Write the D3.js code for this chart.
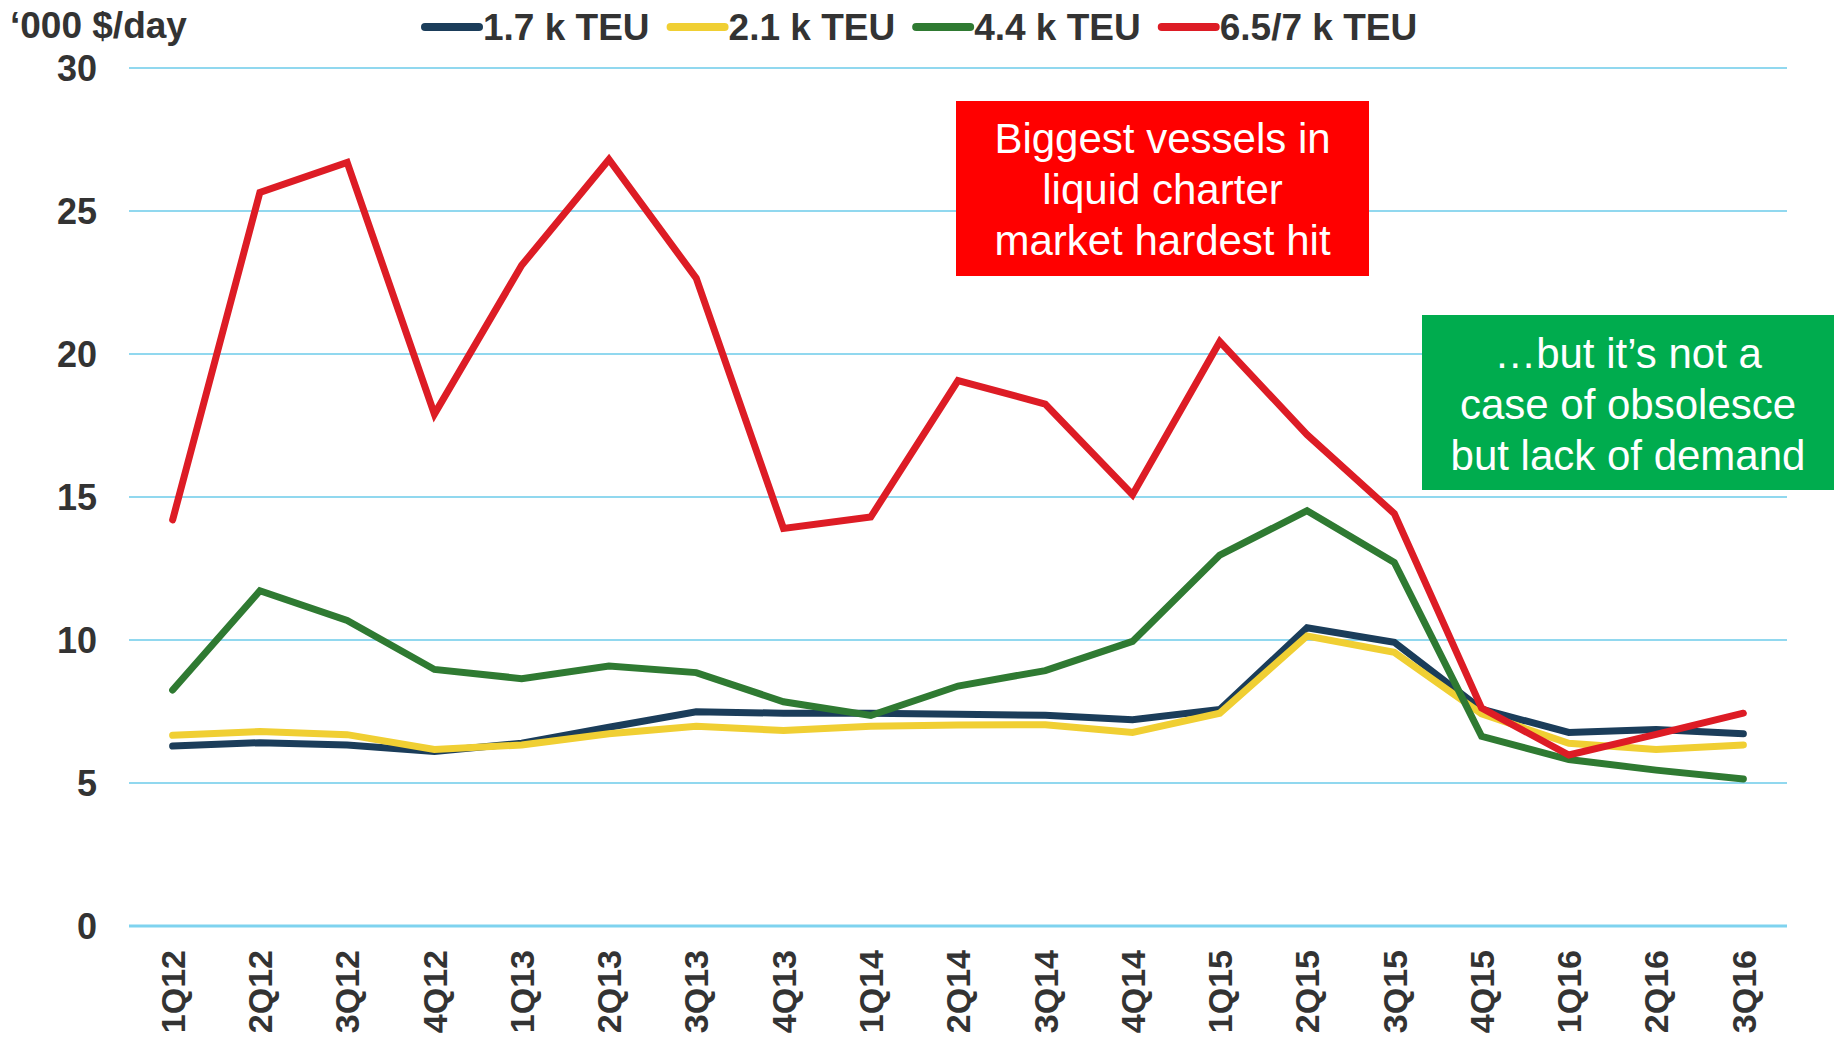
<!DOCTYPE html>
<html><head><meta charset="utf-8">
<script src="https://cdn.jsdelivr.net/npm/d3@7"></script>
<style>
html,body{margin:0;padding:0;background:#fff;}
text{font-family:"Liberation Sans",Arial,sans-serif;}
</style></head>
<body>
<svg id="chart" width="1843" height="1042"></svg>
<script>
const quarters = ["1Q12","2Q12","3Q12","4Q12","1Q13","2Q13","3Q13","4Q13","1Q14","2Q14","3Q14","4Q14","1Q15","2Q15","3Q15","4Q15","1Q16","2Q16","3Q16"];
const teu17 = [6.29,6.41,6.33,6.1,6.39,6.95,7.49,7.44,7.44,7.4,7.37,7.21,7.57,10.43,9.92,7.58,6.77,6.87,6.72];
const teu21 = [6.67,6.8,6.69,6.17,6.33,6.72,6.98,6.84,6.98,7.03,7.04,6.77,7.44,10.14,9.57,7.42,6.39,6.17,6.33];
const teu44 = [8.25,11.72,10.68,8.97,8.65,9.09,8.86,7.84,7.36,8.39,8.93,9.95,12.97,14.52,12.71,6.63,5.82,5.45,5.14];
const teu65 = [14.2,25.65,26.7,17.9,23.1,26.8,22.65,13.9,14.3,19.07,18.25,15.08,20.43,17.18,14.42,7.62,5.98,6.7,7.44];
const seriesNames = ["1.7 k TEU","2.1 k TEU","4.4 k TEU","6.5/7 k TEU"];
const seriesColors = ["#1b3d5a","#f0cf33","#2f7a32","#dd1c25"];
const yTicks = [0,5,10,15,20,25,30];
const yTitle = "\u2018000 $/day";
const note1 = ["Biggest vessels in","liquid charter","market hardest hit"];
const note2 = ["\u2026but it\u2019s not a","case of obsolesce","but lack of demand"];

const seriesData = [teu17, teu21, teu44, teu65];
const svg = d3.select("#chart");
const L = 129, R = 1787, T = 68, B = 926;
const x = d3.scaleBand().domain(quarters).range([L, R]);
const y = d3.scaleLinear().domain([0,30]).range([B, T]);

// gridlines
svg.append("g").selectAll("line").data(yTicks).join("line")
  .attr("x1", L).attr("x2", R)
  .attr("y1", d => y(d)).attr("y2", d => y(d))
  .attr("stroke", d => d === 0 ? "#7fd3ef" : "#6ccbea")
  .attr("stroke-width", d => d === 0 ? 3 : 1.5);

// y axis labels
const yAxis = d3.axisLeft(y).tickValues(yTicks).tickSize(0).tickPadding(0);
const yg = svg.append("g").attr("transform", `translate(97,0)`).call(yAxis);
yg.select(".domain").remove();
yg.selectAll("text").attr("font-size", 36).attr("font-weight", "bold").attr("fill", "#333")
  .attr("font-family", "Liberation Sans, Arial, sans-serif").attr("dy", "0.36em");

// x axis labels
const xAxis = d3.axisBottom(x).tickSize(0).tickPadding(0);
const xg = svg.append("g").attr("transform", `translate(0,${B})`).call(xAxis);
xg.select(".domain").remove();
xg.selectAll("text").attr("font-size", 34).attr("font-weight", "bold").attr("fill", "#333")
  .attr("font-family", "Liberation Sans, Arial, sans-serif")
  .attr("text-anchor", "end").attr("transform", "rotate(-90)")
  .attr("x", -24).attr("y", 0).attr("dy", "0.36em");

// lines
const line = d3.line().x((d,i) => x(quarters[i]) + x.bandwidth()/2).y(d => y(d));
svg.append("g").selectAll("path").data(seriesData).join("path")
  .attr("d", d => line(d)).attr("fill", "none")
  .attr("stroke", (d,i) => seriesColors[i]).attr("stroke-width", 7)
  .attr("stroke-linejoin", "miter").attr("stroke-linecap", "round");

// title
svg.append("text").attr("x", 10).attr("y", 38).attr("font-size", 37).attr("font-weight", "bold")
  .attr("fill", "#333").text(yTitle);

// legend
let lx = 425;
const leg = svg.append("g");
seriesNames.forEach((n, i) => {
  leg.append("line").attr("x1", lx).attr("x2", lx + 54).attr("y1", 27).attr("y2", 27)
    .attr("stroke", seriesColors[i]).attr("stroke-width", 8).attr("stroke-linecap", "round");
  const t = leg.append("text").attr("x", lx + 58).attr("y", 40).attr("font-size", 37)
    .attr("font-weight", "bold").attr("fill", "#333").text(n);
  lx = lx + 58 + t.node().getComputedTextLength() + 21;
});

// annotation boxes
function box(x0, y0, w, h, fill, lines, cy0) {
  svg.append("rect").attr("x", x0).attr("y", y0).attr("width", w).attr("height", h).attr("fill", fill);
  svg.append("g").selectAll("text").data(lines).join("text")
    .attr("x", x0 + w/2).attr("y", (d,i) => cy0 + i*51).attr("dy", "0.36em")
    .attr("text-anchor", "middle").attr("font-size", 42).attr("fill", "#fff").text(d => d);
}
box(956, 101, 413, 175, "#ff0000", note1, 138);
box(1422, 315, 412, 175, "#00ac4e", note2, 353);
</script>
</body></html>
